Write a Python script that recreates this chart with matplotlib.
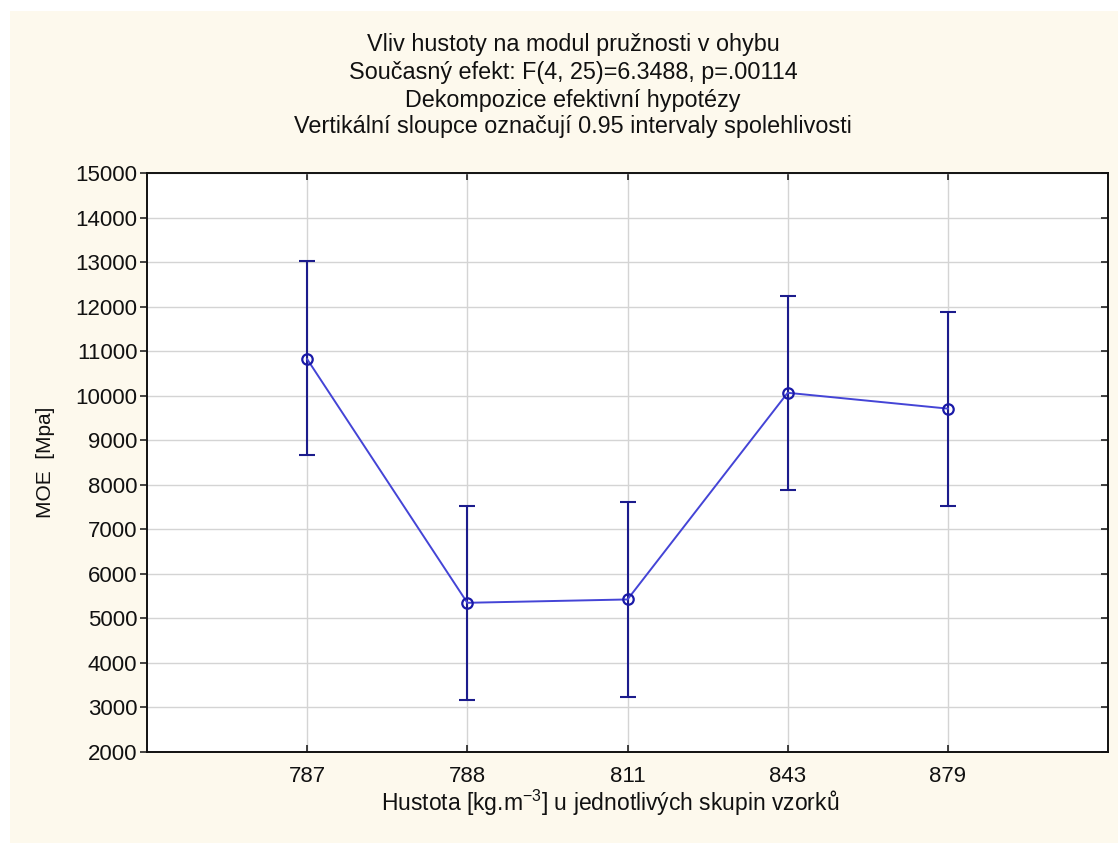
import matplotlib
matplotlib.use("Agg")
import matplotlib.pyplot as plt
from matplotlib.patches import Rectangle

plt.rcParams['font.family'] = ['Liberation Sans', 'DejaVu Sans']

# Group densities and MOE means with 0.95 confidence limits
groups = ["787", "788", "811", "843", "879"]
moe_mean = [10820, 5350, 5425, 10065, 9710]
ci_lower = [8665, 3175, 3245, 7890, 7530]
ci_upper = [13020, 7525, 7605, 12245, 11890]

title_lines = [
    "Vliv hustoty na modul pružnosti v ohybu",
    "Současný efekt: F(4, 25)=6.3488, p=.00114",
    "Dekompozice efektivní hypotézy",
    "Vertikální sloupce označují 0.95 intervaly spolehlivosti",
]
y_ticks = list(range(2000, 15001, 1000))

W, H = 1118, 843
AX_L, AX_R, AX_T, AX_B = 147, 1108, 173, 752
fig = plt.figure(figsize=(W / 100, H / 100), dpi=100)
fig.patch.set_facecolor("white")
fig.patches.append(Rectangle((10 / W, 0), 1 - 10 / W, 1 - 11 / H,
                             transform=fig.transFigure, facecolor="#fdf9ed",
                             edgecolor="none", zorder=-10))

ax = fig.add_axes([AX_L / W, 1 - AX_B / H, (AX_R - AX_L) / W, (AX_B - AX_T) / H])
ax.set_facecolor("white")

x = list(range(len(groups)))
yerr = [[m - lo for m, lo in zip(moe_mean, ci_lower)],
        [hi - m for m, hi in zip(moe_mean, ci_upper)]]

ax.errorbar(x, moe_mean, yerr=yerr, fmt="none", ecolor="#1c1c8c",
            elinewidth=1.5, capsize=5.5, capthick=1.5, zorder=3)
ax.plot(x, moe_mean, color="#4444d6", lw=1.4, zorder=4)
ax.plot(x, moe_mean, "o", ms=7.5, mfc="none", mec="#1a1aa8", mew=1.6, zorder=5)

ax.set_xlim(-1, len(groups))
ax.set_ylim(2000, 15000)
ax.set_xticks(x)
ax.set_xticklabels(groups)
ax.set_yticks(y_ticks)
ax.set_yticklabels([str(v) for v in y_ticks])

ax.grid(True, color="#d4d4d4", lw=1.0, zorder=0)
ax.set_axisbelow(True)
for s in ax.spines.values():
    s.set_linewidth(1.4)
    s.set_color("#111111")

ax.tick_params(axis="y", direction="out", length=5, width=1.1, labelsize=16,
               colors="#111111", right=True, pad=2)
ax.tick_params(axis="x", direction="in", length=5, width=1.1, labelsize=16,
               colors="#111111", top=True, pad=10)
# right-side y ticks point inward
for t in ax.yaxis.get_ticklines()[1::2]:
    t.set_marker(0)

ax.set_ylabel("MOE  [Mpa]", fontsize=15, color="#111111")
ax.yaxis.set_label_coords(-(AX_L - 55) / (AX_R - AX_L), 0.5)
ax.set_xlabel("Hustota [kg.m$^{\\mathregular{-3}}$] u jednotlivých skupin vzorků",
              fontsize=16.5, color="#111111")
ax.xaxis.set_label_coords((610 - AX_L) / (AX_R - AX_L), -(788 - AX_B) / (AX_B - AX_T))

for i, line in enumerate(title_lines):
    yc = [44, 72, 100, 127][i]
    fig.text(573 / W, 1 - yc / H, line, ha="center", va="center",
             fontsize=16.8, color="#111111")

fig.savefig("out.png", dpi=100, facecolor=fig.get_facecolor())
